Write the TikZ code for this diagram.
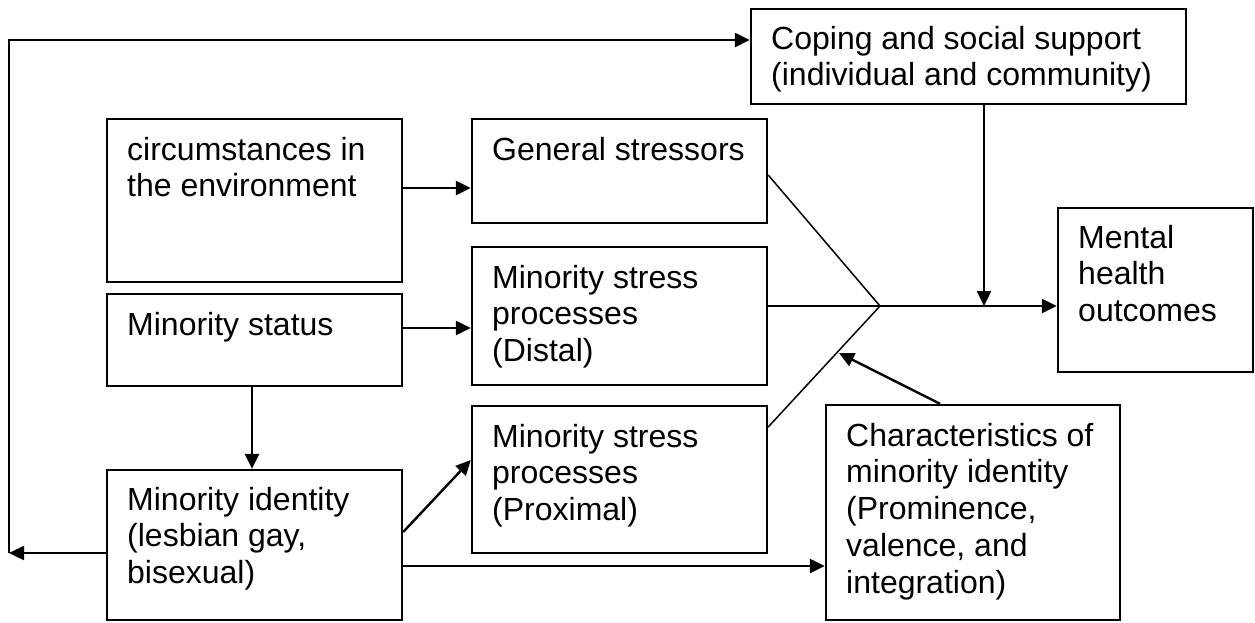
\documentclass[tikz,border=0pt]{standalone}
\usepackage{fontspec}
\setmainfont{Liberation Sans}
\usetikzlibrary{arrows.meta}
\tikzset{
  box/.style={draw=black, line width=2.4pt, fill=white, inner sep=0pt},
  txt/.style={anchor=base west, align=left, inner sep=0pt, font=\fontsize{32}{36.8}\selectfont},
  arr/.style={draw=black, line width=2.4pt, -{Triangle[length=15pt,width=14pt]}},
  thinline/.style={draw=black, line width=1.5pt},
  midline/.style={draw=black, line width=2.4pt}
}
\begin{document}
\begin{tikzpicture}[x=1pt,y=-1pt]
\useasboundingbox (0,0) rectangle (1255,622);
% boxes
\node[box, minimum width=435pt, minimum height=95pt]  (coping)   at (968.5,56.5) {};
\node[box, minimum width=295pt, minimum height=163pt] (circ)     at (254.5,200.5) {};
\node[box, minimum width=295pt, minimum height=104pt] (gen)      at (619.5,171) {};
\node[box, minimum width=195pt, minimum height=164pt] (mental)   at (1155.5,290) {};
\node[box, minimum width=295pt, minimum height=92pt]  (status)   at (254.5,340) {};
\node[box, minimum width=295pt, minimum height=138pt] (distal)   at (619.5,316) {};
\node[box, minimum width=295pt, minimum height=147pt] (proximal) at (619.5,479.5) {};
\node[box, minimum width=294pt, minimum height=215pt] (char)     at (973,512.5) {};
\node[box, minimum width=295pt, minimum height=150pt] (identity) at (254.5,545) {};
% texts (anchor = baseline of the last line)
\node[txt] (copingT)   at (771,85.8)    {Coping and social support\\(individual and community)};
\node[txt] (circT)     at (127,196.8)   {circumstances in\\the environment};
\node[txt] (genT)      at (492,160)     {General stressors};
\node[txt] (mentalT)   at (1078,321.6)  {Mental\\health\\outcomes};
\node[txt] (statusT)   at (127,335)     {Minority status};
\node[txt] (distalT)   at (492,361.6)   {Minority stress\\processes\\(Distal)};
\node[txt] (proximalT) at (492,520.6)   {Minority stress\\processes\\(Proximal)};
\node[txt] (charT)     at (846,593.2)   {Characteristics of\\minority identity\\(Prominence,\\valence, and\\integration)};
\node[txt] (identityT) at (127,583.6)   {Minority identity\\(lesbian gay,\\bisexual)};
% coordinates
\coordinate (conv) at (880,306);
\coordinate (loopB) at (9,553);
\coordinate (loopT) at (9,40);
\coordinate (chartip) at (839,353);
% connectors
\draw[arr] (circ.east |- 0,188) -- (gen.west |- 0,188);
\draw[arr] (status.east |- 0,328) -- (distal.west |- 0,328);
\draw[arr] (status.south -| 252,0) -- (identity.north -| 252,0);
\draw[arr] (identity.east |- 0,532) -- (proximal.west |- 0,460);
\draw[arr] (identity.east |- 0,566) -- (char.west |- 0,566);
\draw[arr] (identity.west |- loopB) -- (loopB);
\draw[arr] (loopB) -- (loopT) -- (coping.west |- loopT);
\draw[thinline] (gen.east |- 0,175) -- (conv);
\draw[midline] (distal.east |- conv) -- (conv);
\draw[thinline] (proximal.east |- 0,427) -- (conv);
\draw[arr] (conv) -- (mental.west |- conv);
\draw[arr] (coping.south -| 984,0) -- (984,306);
\draw[arr] (char.north -| 940,0) -- (chartip);
\end{tikzpicture}
\end{document}
